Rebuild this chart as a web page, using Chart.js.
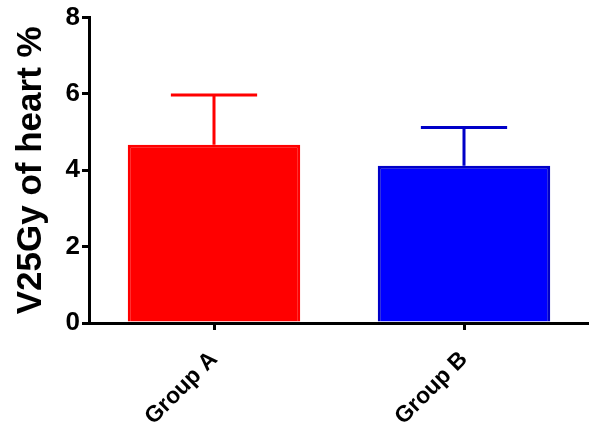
<!DOCTYPE html>
<html>
<head>
<meta charset="utf-8">
<script src="https://cdn.jsdelivr.net/npm/chart.js@4/dist/chart.umd.min.js"></script>
<style>
  html, body { margin: 0; padding: 0; background: #fff; }
  #wrap { width: 589px; height: 426px; }
</style>
</head>
<body>
<div id="wrap"><canvas id="chart"></canvas></div>
<script>
const groups = ["Group A", "Group B"];
const means = [4.67, 4.12];
const errors = [1.30, 1.00];
const yTicks = [0, 2, 4, 6, 8];

const fillColors = ["#ff0000", "#0000ff"];
const edgeColors = ["#ff0000", "#0000c8"];

// 误差线：只画上半部分，带横帽
const errorBarPlugin = {
    id: "errorBars",
    afterDatasetsDraw(chart) {
        const ctx = chart.ctx;
        const meta = chart.getDatasetMeta(0);
        const yScale = chart.scales.y;
        ctx.save();
        meta.data.forEach((bar, i) => {
            const x = bar.x;
            const yTop = yScale.getPixelForValue(means[i] + errors[i]);
            const yBase = yScale.getPixelForValue(means[i]);
            const capHalf = bar.width / 4;
            ctx.strokeStyle = edgeColors[i];
            ctx.lineWidth = 3;
            ctx.lineCap = "butt";
            ctx.beginPath();
            ctx.moveTo(x, yBase);
            ctx.lineTo(x, yTop);
            ctx.moveTo(x - capHalf, yTop);
            ctx.lineTo(x + capHalf, yTop);
            ctx.stroke();
        });
        ctx.restore();
    }
};

const ctx = document.getElementById("chart").getContext("2d");
new Chart(ctx, {
    type: "bar",
    data: {
        labels: groups,
        datasets: [{
            data: means,
            backgroundColor: fillColors,
            borderColor: edgeColors,
            borderWidth: 3,
            categoryPercentage: 1.0,
            barPercentage: 0.69
        }]
    },
    options: {
        responsive: true,
        maintainAspectRatio: false,
        animation: false,
        layout: { padding: { top: 13, right: 0, left: 10, bottom: 0 } },
        plugins: { legend: { display: false }, tooltip: { enabled: false } },
        scales: {
            x: {
                grid: {
                    display: true,
                    offset: false,
                    drawOnChartArea: false,
                    drawTicks: true,
                    tickLength: 7,
                    color: "#000",
                    lineWidth: 3
                },
                border: { display: true, color: "#000", width: 3 },
                ticks: {
                    color: "#000",
                    font: { family: "Liberation Sans, Arial, sans-serif", size: 23, weight: "bold" },
                    maxRotation: 45,
                    minRotation: 45,
                    padding: 16
                },
                afterFit(scale) { scale.height = 103; }
            },
            y: {
                min: 0,
                max: 8,
                afterBuildTicks(scale) { scale.ticks = yTicks.map(v => ({ value: v })); },
                grid: {
                    display: true,
                    drawOnChartArea: false,
                    drawTicks: true,
                    tickLength: 7,
                    color: "#000",
                    lineWidth: 3
                },
                border: { display: true, color: "#000", width: 3 },
                ticks: {
                    color: "#000",
                    font: { family: "Liberation Sans, Arial, sans-serif", size: 26, weight: "bold" },
                    padding: 2
                },
                title: {
                    display: true,
                    text: "V25Gy of heart %",
                    color: "#000",
                    font: { family: "Liberation Sans, Arial, sans-serif", size: 35, weight: "bold" },
                    padding: { top: 0, bottom: 6 }
                },
                afterFit(scale) { scale.width = 79; }
            }
        }
    },
    plugins: [errorBarPlugin]
});
</script>
</body>
</html>
